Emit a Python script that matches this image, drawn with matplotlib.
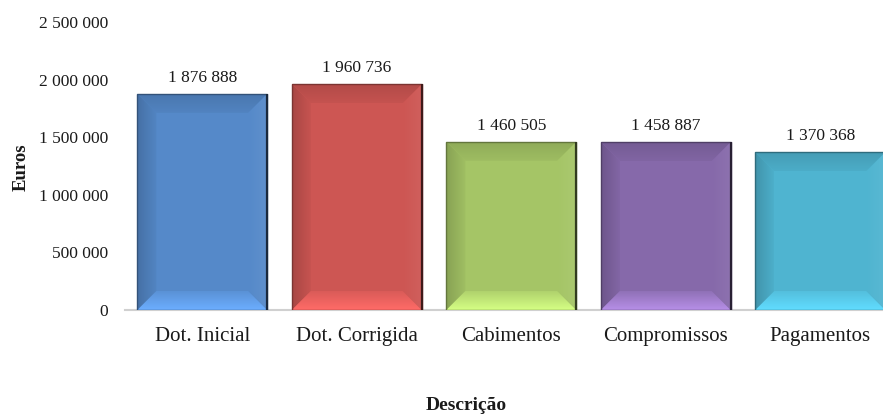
import numpy as np
import matplotlib
matplotlib.use("Agg")
import matplotlib.pyplot as plt
from matplotlib.patches import Polygon
from matplotlib.colors import to_rgb, rgb_to_hsv, hsv_to_rgb

categories = ["Dot. Inicial", "Dot. Corrigida", "Cabimentos", "Compromissos", "Pagamentos"]
values = [1876888, 1960736, 1460505, 1458887, 1370368]
face_colors = ["#5589C9", "#CD5653", "#A5C566", "#8669AA", "#4FB4D0"]
yticks = [0, 500000, 1000000, 1500000, 2000000, 2500000]

FONT = ["Liberation Serif", "DejaVu Serif"]
plt.rcParams["font.family"] = FONT


def fmt(v):
    return f"{v:,.0f}".replace(",", " ")


def shade(c, f):
    r = np.array(to_rgb(c))
    if f < 0:
        return tuple(r * (1 + f))
    return tuple(r + (1 - r) * f)


def bright(c, dv, ds=0.0):
    h, s, v = rgb_to_hsv(np.array(to_rgb(c)))
    v = min(1.0, v + dv)
    s = max(0.0, min(1.0, s + ds))
    return tuple(hsv_to_rgb(np.array([h, s, v])))


fig = plt.figure(figsize=(8.83, 4.16), dpi=100)
W, H = 883, 416
left_px, right_px, bottom_px, top_px = 125, 897.5, 310, 22
ax = fig.add_axes([left_px / W, (H - bottom_px) / H,
                   (right_px - left_px) / W, (bottom_px - top_px) / H])
ax.set_xlim(-0.5, 4.5)
ax.set_ylim(0, 2500000)
ax.set_autoscale_on(False)

x = np.arange(len(categories))
bw = 0.84
bars = ax.bar(x, values, width=bw, color=face_colors, edgecolor="none", zorder=2)

px_x = 5.0 / (right_px - left_px)          # data units per pixel in x
px_y = 2500000 / (bottom_px - top_px)       # data units per pixel in y
bev = 19


def grad_fill(pts, c0, c1, vertical, z=3):
    pts = np.array(pts)
    xmin, xmax = pts[:, 0].min(), pts[:, 0].max()
    ymin, ymax = pts[:, 1].min(), pts[:, 1].max()
    n = 64
    t = np.linspace(0, 1, n)
    a = np.array(c0); b = np.array(c1)
    cols = a[None, :] * (1 - t[:, None]) + b[None, :] * t[:, None]
    if vertical:
        img = cols[:, None, :]
    else:
        img = cols[None, :, :]
    poly = Polygon(pts, closed=True, facecolor="none", edgecolor="none",
                   transform=ax.transData)
    ax.add_patch(poly)
    im = ax.imshow(img, extent=(xmin, xmax, ymin, ymax), origin="lower",
                   aspect="auto", interpolation="bilinear", zorder=z)
    im.set_clip_path(poly)


for b, c in zip(bars, face_colors):
    x0 = b.get_x(); x1 = x0 + b.get_width(); y1 = b.get_height(); y0 = 0
    dx = bev * px_x; dy = bev * px_y
    top = [(x0, y1), (x1, y1), (x1 - dx, y1 - dy), (x0 + dx, y1 - dy)]
    bot = [(x0, y0), (x1, y0), (x1 - dx, y0 + dy), (x0 + dx, y0 + dy)]
    lft = [(x0, y0), (x0, y1), (x0 + dx, y1 - dy), (x0 + dx, y0 + dy)]
    rgt = [(x1, y0), (x1, y1), (x1 - dx, y1 - dy), (x1 - dx, y0 + dy)]
    grad_fill(lft, shade(c, -0.18), shade(c, -0.03), vertical=False)
    grad_fill(rgt, shade(c, 0.0), shade(c, 0.06), vertical=False)
    grad_fill(top, shade(c, -0.04), shade(c, -0.13), vertical=True, z=3.1)
    grad_fill(bot, bright(c, 0.24, 0.0), bright(c, 0.05, 0.0), vertical=True, z=3.1)
    ax.add_patch(Polygon([(x0, y0), (x0, y1), (x1, y1), (x1, y0)], closed=True,
                         facecolor="none", edgecolor=shade(c, -0.40), lw=1.0, zorder=4))
    ax.plot([x1, x1], [y0, y1], color=shade(c, -0.7), lw=1.6, zorder=4.1,
            solid_capstyle="butt")
    ax.text(b.get_x() + b.get_width() / 2, y1 + 8 * px_y, fmt(y1),
            ha="center", va="bottom", fontsize=12.5, color="#1a1a1a", zorder=5)

ax.set_yticks(yticks)
ax.set_yticklabels([fmt(v) for v in yticks], fontsize=12.5, color="#1a1a1a")
ax.set_xticks(x)
ax.set_xticklabels(categories, fontsize=15, color="#1a1a1a")
ax.tick_params(axis="y", length=0, pad=12)
ax.tick_params(axis="x", length=0, pad=12.5)
for s in ["top", "right", "left"]:
    ax.spines[s].set_visible(False)
ax.spines["bottom"].set_color("#d0d0d0")
ax.spines["bottom"].set_linewidth(1.5)
ax.spines["bottom"].set_zorder(1)

fig.text(21 / W, 1 - 167 / H, "Euros", rotation=90, ha="center", va="center",
         fontsize=13.5, fontweight="bold", color="#1a1a1a")
fig.text(466 / W, 1 - 406 / H, "Descrição", ha="center", va="center",
         fontsize=14, fontweight="bold", color="#1a1a1a")

fig.savefig("out.png", dpi=100)
